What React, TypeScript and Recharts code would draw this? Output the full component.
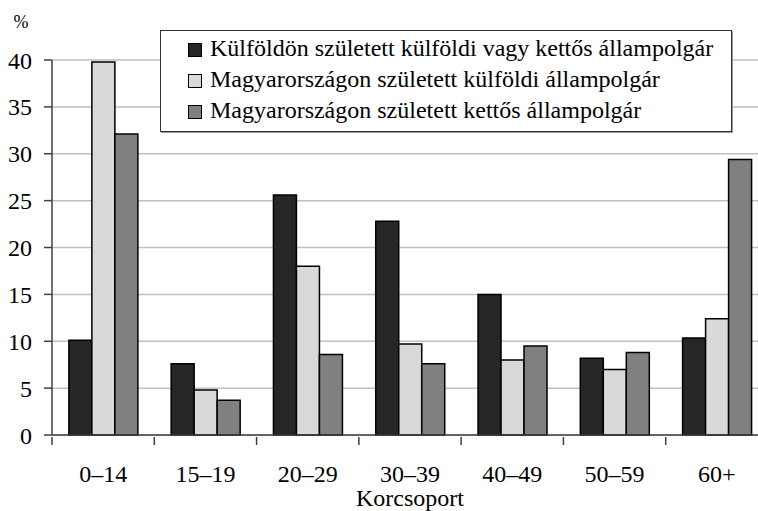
import React from 'react';
import {
	BarChart,
	Bar,
	XAxis,
	YAxis,
	CartesianGrid,
} from 'recharts';

// Age groups and series values (%)
const categories = ['0–14', '15–19', '20–29', '30–39', '40–49', '50–59', '60+'];
const seriesNames = [
	'Külföldön született külföldi vagy kettős állampolgár',
	'Magyarországon született külföldi állampolgár',
	'Magyarországon született kettős állampolgár',
];
const foreignBorn = [10.1, 7.6, 25.6, 22.8, 15.0, 8.2, 10.35];
const hunBornForeign = [39.8, 4.8, 18.0, 9.7, 8.0, 7.0, 12.4];
const hunBornDual = [32.1, 3.7, 8.6, 7.6, 9.5, 8.8, 29.4];
const yTicks = [0, 5, 10, 15, 20, 25, 30, 35, 40];
const colors = ['#262626', '#d9d9d9', '#808080'];

const data = categories.map((cat, i) => ({
	cat,
	a: foreignBorn[i],
	b: hunBornForeign[i],
	c: hunBornDual[i],
}));

const FONT = "'Liberation Serif', 'Tinos', 'DejaVu Serif', 'Noto Serif', serif";

// category tick: label in the middle, tick marks on the category edges
const CatTick = (props: any) => {
	const { x, y, payload, index } = props;
	const half = payload.offset || 0;
	return (
		<g>
			<line x1={x - half} x2={x - half} y1={y} y2={y + 8} stroke='#404040' strokeWidth={1.5} />
			{index === categories.length - 1 && (
				<line x1={x + half} x2={x + half} y1={y} y2={y + 8} stroke='#404040' strokeWidth={1.5} />
			)}
			<text x={x} y={y + 45} textAnchor='middle' fontSize={24} style={{ fontFamily: FONT }} fill='#000'>
				{payload.value}
			</text>
		</g>
	);
};

const LegendBox = () => (
	<div
		style={{
			position: 'absolute',
			left: 160,
			top: 30,
			boxSizing: 'border-box',
			width: 572,
			height: 102,
			border: '1px solid #333',
			boxShadow: '1px 1px 0 #999',
			background: '#fff',
			padding: '2px 0 0 27px',
			fontFamily: FONT,
			fontSize: 24,
			color: '#000',
		}}>
		{seriesNames.map((name, i) => (
			<div
				key={name}
				style={{
					height: 31,
					lineHeight: '31px',
					display: 'flex',
					alignItems: 'center',
					whiteSpace: 'nowrap',
				}}>
				<span
					style={{
						display: 'inline-block',
						boxSizing: 'border-box',
						width: 14,
						height: 14,
						background: colors[i],
						border: '1px solid #000',
						marginRight: 8,
						marginTop: 3,
					}}
				/>
				{name}
			</div>
		))}
	</div>
);

const App = () => {
	return (
		<div
			style={{
				position: 'fixed',
				left: 0,
				top: 0,
				width: 758,
				height: 511,
				overflow: 'hidden',
				background: '#fff',
				fontFamily: FONT,
			}}>
			<BarChart
				width={768}
				height={511}
				data={data}
				margin={{ top: 60, right: 0, bottom: 0, left: 0 }}
				barCategoryGap='16.5%'
				barGap={0}
				style={{ fontFamily: FONT }}>
				<CartesianGrid vertical={false} stroke='#bfbfbf' strokeWidth={1.5} />
				<XAxis
					dataKey='cat'
					height={76}
					tickLine={false}
					tickSize={0}
					axisLine={{ stroke: '#404040', strokeWidth: 1.5 }}
					tick={<CatTick />}
					interval={0}
					label={{
						value: 'Korcsoport',
						position: 'insideBottom',
						offset: 5,
						fill: '#000',
						fontSize: 24,
						style: { fontFamily: FONT },
					}}
				/>
				<YAxis
					width={52}
					domain={[0, 40]}
					ticks={yTicks}
					tickSize={8}
					tickMargin={12}
					tickLine={{ stroke: '#404040', strokeWidth: 1.5 }}
					axisLine={{ stroke: '#404040', strokeWidth: 1.5 }}
					tick={{ fill: '#000', fontSize: 24, style: { fontFamily: FONT } }}
					label={{
						value: '%',
						position: 'top',
						offset: 32,
						dx: -5,
						fill: '#000',
						fontSize: 18,
						style: { fontFamily: FONT },
					}}
				/>
				<Bar dataKey='a' name={seriesNames[0]} fill={colors[0]} stroke='#000' strokeWidth={1.5} isAnimationActive={false} />
				<Bar dataKey='b' name={seriesNames[1]} fill={colors[1]} stroke='#000' strokeWidth={1.5} isAnimationActive={false} />
				<Bar dataKey='c' name={seriesNames[2]} fill={colors[2]} stroke='#000' strokeWidth={1.5} isAnimationActive={false} />
			</BarChart>
			<LegendBox />
		</div>
	);
};

export default App;
